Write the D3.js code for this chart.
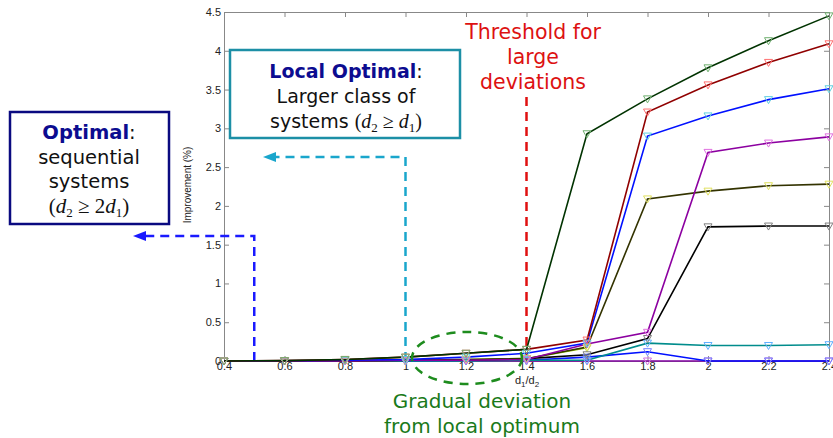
<!DOCTYPE html>
<html>
<head>
<meta charset="utf-8">
<script src="https://cdn.jsdelivr.net/npm/d3@7"></script>
<style>
  body { margin: 0; background: #fff; }
  svg { display: block; }
  .tick text { font-family: "Liberation Sans", Arial, sans-serif; }
</style>
</head>
<body>
<script>
// x categories (d1/d2)
var ratios = [0.4, 0.6, 0.8, 1.0, 1.2, 1.4, 1.6, 1.8, 2.0, 2.2, 2.4];

// improvement (%) per series
var darkGreen  = [0, 0.005, 0.02, 0.05, 0.10, 0.15, 2.93, 3.38, 3.78, 4.13, 4.45];
var darkRed    = [0, 0.005, 0.02, 0.05, 0.10, 0.15, 0.27, 3.21, 3.56, 3.85, 4.09];
var blueTop    = [0, 0.003, 0.01, 0.02, 0.05, 0.10, 0.23, 2.90, 3.16, 3.37, 3.51];
var purple     = [0, 0, 0, 0.01, 0.01, 0.02, 0.22, 0.37, 2.69, 2.81, 2.89];
var olive      = [0, 0, 0, 0.01, 0.02, 0.03, 0.18, 2.09, 2.19, 2.26, 2.28];
var black      = [0, 0, 0, 0.01, 0.01, 0.03, 0.08, 0.29, 1.73, 1.74, 1.74];
var teal       = [0, 0, 0, 0, 0, 0.01, 0.01, 0.23, 0.20, 0.20, 0.21];
var blueLow    = [0, 0, 0, 0, 0.01, 0.01, 0.05, 0.12, 0, 0, 0];
var yellowGreen= [0, 0, 0, 0.01, 0.02, 0.03, 0.17, null, null, null, null];
var magenta    = [0, 0, 0, 0, 0, 0, 0, 0, 0, 0, 0];

var yTicks = [0, 0.5, 1, 1.5, 2, 2.5, 3, 3.5, 4, 4.5];

var series = [
  {v: magenta,     line: "#8000a0", mark: "#d070e0"},
  {v: blueLow,     line: "#0010ff", mark: "#7080ff"},
  {v: teal,        line: "#008c8c", mark: "#60b0ff"},
  {v: yellowGreen, line: "#99cc00", mark: "#c0d060"},
  {v: black,       line: "#000000", mark: "#808080"},
  {v: olive,       line: "#333300", mark: "#e0e060"},
  {v: purple,      line: "#8c00a0", mark: "#e070e0"},
  {v: blueTop,     line: "#0010ff", mark: "#60d0e0"},
  {v: darkRed,     line: "#900000", mark: "#ff7070"},
  {v: darkGreen,   line: "#003300", mark: "#70b070"}
];

var W = 833, H = 438;
var svg = d3.select("body").append("svg").attr("width", W).attr("height", H);

var x = d3.scaleLinear().domain([0.4, 2.4]).range([224, 829]);
var y = d3.scaleLinear().domain([0, 4.5]).range([361, 12]);
var fmt = d3.format("~g");

// axes box
var axFont = "Liberation Sans, Arial, sans-serif";
svg.append("g").attr("transform", "translate(0,361)")
  .call(d3.axisBottom(x).tickValues(ratios).tickSize(-5).tickPadding(3).tickFormat(fmt))
  .call(function(g) {
    g.select(".domain").attr("stroke", "#888");
    g.selectAll(".tick line").attr("stroke", "#888");
    g.selectAll(".tick text").attr("font-size", 11).attr("fill", "#222").attr("dy", "0.5em");
  });
svg.append("g").attr("transform", "translate(0,12)")
  .call(d3.axisTop(x).tickValues(ratios).tickSize(-5).tickFormat(""))
  .call(function(g) {
    g.select(".domain").attr("stroke", "#888");
    g.selectAll(".tick line").attr("stroke", "#888");
  });
svg.append("g").attr("transform", "translate(224,0)")
  .call(d3.axisLeft(y).tickValues(yTicks).tickSize(-5).tickPadding(3).tickFormat(fmt))
  .call(function(g) {
    g.select(".domain").attr("stroke", "#888");
    g.selectAll(".tick line").attr("stroke", "#888");
    g.selectAll(".tick text").attr("font-size", 11).attr("fill", "#222");
  });
svg.append("g").attr("transform", "translate(829,0)")
  .call(d3.axisRight(y).tickValues(yTicks).tickSize(-5).tickFormat(""))
  .call(function(g) {
    g.select(".domain").attr("stroke", "#888");
    g.selectAll(".tick line").attr("stroke", "#888");
  });

// axis labels
var xl = svg.append("text").attr("x", 527).attr("y", 384)
  .attr("text-anchor", "middle").attr("font-family", axFont).attr("font-size", 11).attr("fill", "#222");
xl.append("tspan").text("d");
xl.append("tspan").attr("font-size", 8).attr("dy", 3).text("1");
xl.append("tspan").attr("dy", -3).text("/d");
xl.append("tspan").attr("font-size", 8).attr("dy", 3).text("2");

svg.append("text").attr("transform", "translate(191,185) rotate(-90)")
  .attr("text-anchor", "middle").attr("font-family", axFont).attr("font-size", 10)
  .attr("fill", "#222").text("Improvement (%)");

// dashed guides behind the data
function dashed(pts, col) {
  svg.append("path").attr("d", d3.line()(pts)).attr("fill", "none")
    .attr("stroke", col).attr("stroke-width", 2.5).attr("stroke-dasharray", "9,6");
}
function arrowHead(px, py, col) {
  svg.append("path").attr("d", "M" + px + "," + py + "L" + (px + 13) + "," + (py - 5) + "L" + (px + 13) + "," + (py + 5) + "Z")
    .attr("fill", col);
}
dashed([[x(0.5), y(0)], [x(0.5), 236], [146, 236]], "#1a1aff");
arrowHead(133, 236, "#1a1aff");
dashed([[x(1.0), y(0)], [x(1.0), 157], [276, 157]], "#1aa6cc");
arrowHead(263, 157, "#1aa6cc");
dashed([[x(1.4), y(0)], [x(1.4), 95]], "#e01010");

// data lines and triangle markers
var line = d3.line().defined(function(d) { return d != null; })
  .x(function(d, i) { return x(ratios[i]); })
  .y(function(d) { return y(d); });

series.forEach(function(s) {
  svg.append("path").datum(s.v).attr("d", line)
    .attr("fill", "none").attr("stroke", s.line).attr("stroke-width", 1.6);
});
series.forEach(function(s) {
  svg.append("g").selectAll("path")
    .data(s.v.map(function(v, i) { return {v: v, i: i}; }).filter(function(d) { return d.v != null; }))
    .enter().append("path")
    .attr("transform", function(d) { return "translate(" + x(ratios[d.i]) + "," + y(d.v) + ")"; })
    .attr("d", "M-4,-3L4,-3L0,4Z")
    .attr("fill", "none").attr("stroke", s.mark).attr("stroke-width", 1);
});

// green dashed ellipse
svg.append("ellipse").attr("cx", 467).attr("cy", 358).attr("rx", 55).attr("ry", 26)
  .attr("fill", "none").attr("stroke", "#1e8c1e").attr("stroke-width", 2.5)
  .attr("stroke-dasharray", "9,7");

// annotation boxes
var aFont = "DejaVu Sans, Verdana, sans-serif";
svg.append("rect").attr("x", 10).attr("y", 112).attr("width", 159).attr("height", 112)
  .attr("fill", "#fff").attr("stroke", "#0a0a80").attr("stroke-width", 2.5);
var t1 = svg.append("text").attr("x", 89).attr("y", 139).attr("text-anchor", "middle")
  .attr("font-family", aFont).attr("font-size", 19.5);
t1.append("tspan").attr("font-weight", "bold").attr("fill", "#0c0c90").text("Optimal");
t1.append("tspan").attr("fill", "#111").text(":");
svg.append("text").attr("x", 89).attr("y", 164).attr("text-anchor", "middle")
  .attr("font-family", aFont).attr("font-size", 19.5).attr("fill", "#111").text("sequential");
svg.append("text").attr("x", 89).attr("y", 188).attr("text-anchor", "middle")
  .attr("font-family", aFont).attr("font-size", 19.5).attr("fill", "#111").text("systems");
var f1 = svg.append("text").attr("x", 89).attr("y", 213).attr("text-anchor", "middle")
  .attr("font-family", "Liberation Serif, Times New Roman, serif").attr("font-size", 21).attr("fill", "#111");
f1.append("tspan").text("(");
f1.append("tspan").attr("font-style", "italic").text("d");
f1.append("tspan").attr("font-size", 13).attr("dy", 4).text("2");
f1.append("tspan").attr("dy", -4).text(" ≥ 2");
f1.append("tspan").attr("font-style", "italic").text("d");
f1.append("tspan").attr("font-size", 13).attr("dy", 4).text("1");
f1.append("tspan").attr("dy", -4).text(")");

svg.append("rect").attr("x", 230).attr("y", 50).attr("width", 230).attr("height", 88)
  .attr("fill", "#fff").attr("stroke", "#1c8fa6").attr("stroke-width", 2.5);
var t2 = svg.append("text").attr("x", 346).attr("y", 78).attr("text-anchor", "middle")
  .attr("font-family", aFont).attr("font-size", 19);
t2.append("tspan").attr("font-weight", "bold").attr("fill", "#0c0c90").text("Local Optimal");
t2.append("tspan").attr("fill", "#111").text(":");
svg.append("text").attr("x", 346).attr("y", 103).attr("text-anchor", "middle")
  .attr("font-family", aFont).attr("font-size", 19).attr("fill", "#111").text("Larger class of");
var t3 = svg.append("text").attr("x", 346).attr("y", 128).attr("text-anchor", "middle")
  .attr("font-family", aFont).attr("font-size", 19).attr("fill", "#111");
t3.append("tspan").text("systems ");
var f2 = t3.append("tspan").attr("font-family", "Liberation Serif, Times New Roman, serif").attr("font-size", 20);
f2.append("tspan").text("(");
f2.append("tspan").attr("font-style", "italic").text("d");
f2.append("tspan").attr("font-size", 13).attr("dy", 4).text("2");
f2.append("tspan").attr("dy", -4).text(" ≥ ");
f2.append("tspan").attr("font-style", "italic").text("d");
f2.append("tspan").attr("font-size", 13).attr("dy", 4).text("1");
f2.append("tspan").attr("dy", -4).text(")");

// red threshold text
["Threshold for", "large", "deviations"].forEach(function(s, i) {
  svg.append("text").attr("x", 533).attr("y", 39 + i * 25).attr("text-anchor", "middle")
    .attr("font-family", aFont).attr("font-size", 20.5).attr("fill", "#dd1111").text(s);
});

// green note
["Gradual deviation", "from local optimum"].forEach(function(s, i) {
  svg.append("text").attr("x", 482).attr("y", 408 + i * 25).attr("text-anchor", "middle")
    .attr("font-family", aFont).attr("font-size", 20).attr("fill", "#1a7a1a").text(s);
});
</script>
</body>
</html>
